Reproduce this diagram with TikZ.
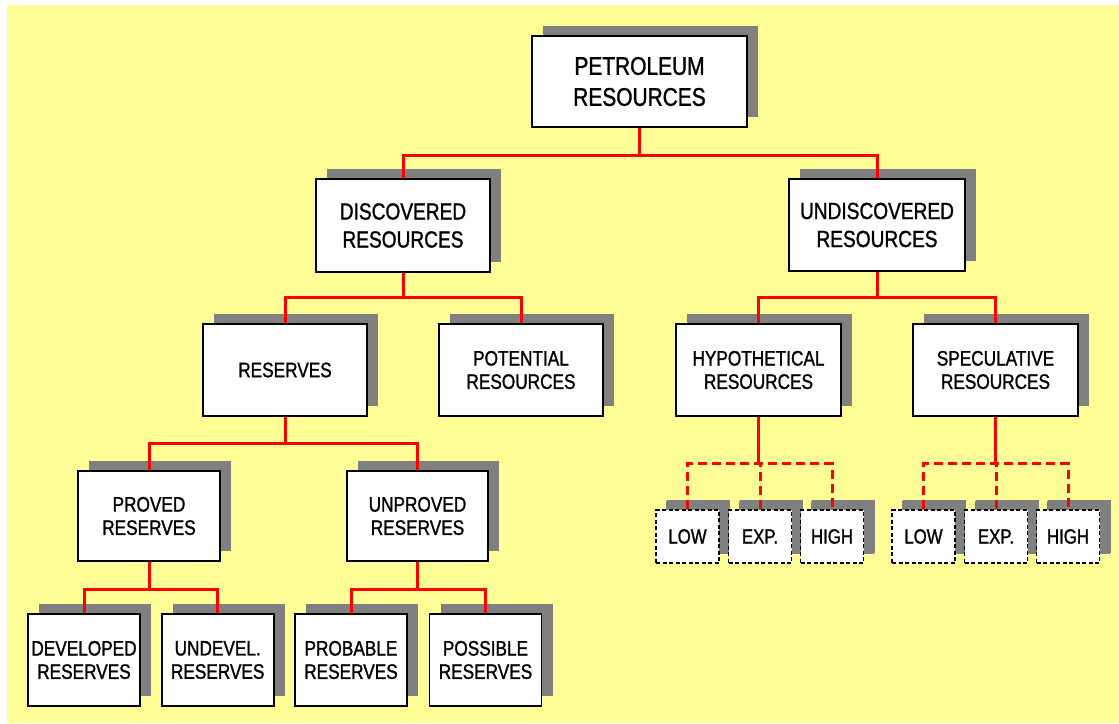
\documentclass[tikz,border=0pt]{standalone}
\usepackage{fontspec}
\newfontfamily\cf[FakeStretch=0.82,FakeBold=1.2]{Liberation Sans}
\usetikzlibrary{shadows}
\definecolor{bgyellow}{RGB}{255,254,150}
\definecolor{shgray}{RGB}{128,128,128}
\definecolor{linered}{RGB}{255,0,0}
\begin{document}
\begin{tikzpicture}[x=1pt,y=-1pt,
  box/.style={draw=black, line width=1.8pt, fill=white, inner sep=0pt, align=center,
    font=\cf\fontsize{21}{23.3}\selectfont,
    drop shadow={shadow xshift=11pt, shadow yshift=10pt, fill=shgray, opacity=1}},
  bigbox/.style={box, font=\cf\fontsize{25.5}{31}\selectfont},
  midbox/.style={box, font=\cf\fontsize{23.3}{28}\selectfont},
  lowbox/.style={box, line width=1.5pt, dash pattern=on 4pt off 2.5pt,
    minimum width=63pt, minimum height=53pt, font=\cf\fontsize{20.5}{23}\selectfont,
    drop shadow={shadow xshift=10pt, shadow yshift=9pt, fill=shgray, opacity=1}},
  conn/.style={draw=linered, line width=3pt},
  dconn/.style={draw=linered, line width=3pt, dash pattern=on 9pt off 5pt}]
\useasboundingbox (0,0) rectangle (1119,723);
\fill[bgyellow] (7,5) rectangle (1119,723);

% level 1
\node[bigbox, minimum width=215pt, minimum height=91pt] (pet) at (639.5,81.5) {PETROLEUM\\RESOURCES};
% level 2
\node[midbox, minimum width=174pt, minimum height=93pt] (disc) at (403,225.5) {DISCOVERED\\RESOURCES};
\node[midbox, minimum width=176pt, minimum height=92pt] (undisc) at (877,225) {UNDISCOVERED\\RESOURCES};
% level 3
\node[box, minimum width=164pt, minimum height=92pt] (res) at (285,370) {RESERVES};
\node[box, minimum width=164pt, minimum height=92pt] (pot) at (521,370) {POTENTIAL\\RESOURCES};
\node[box, minimum width=165pt, minimum height=92pt] (hypo) at (758.5,370) {HYPOTHETICAL\\RESOURCES};
\node[box, minimum width=165pt, minimum height=92pt] (spec) at (995.5,370) {SPECULATIVE\\RESOURCES};
% level 4
\node[box, minimum width=142pt, minimum height=90pt] (prov) at (149,516) {PROVED\\RESERVES};
\node[box, minimum width=141pt, minimum height=90pt] (unprov) at (417.5,516) {UNPROVED\\RESERVES};
% level 5
\node[box, minimum width=112pt, minimum height=92pt] (dev) at (84,660) {DEVELOPED\\RESERVES};
\node[box, minimum width=112pt, minimum height=92pt] (undev) at (217.7,660) {UNDEVEL.\\RESERVES};
\node[box, minimum width=112pt, minimum height=92pt] (prob) at (351,660) {PROBABLE\\RESERVES};
\node[box, minimum width=112pt, minimum height=92pt] (poss) at (485.5,660) {POSSIBLE\\RESERVES};
% low / exp / high
\node[lowbox] (lowA) at (687.5,536.5) {LOW};
\node[lowbox] (expA) at (760,536.5) {EXP.};
\node[lowbox] (highA) at (832,536.5) {HIGH};
\node[lowbox] (lowB) at (923.5,536.5) {LOW};
\node[lowbox] (expB) at (996,536.5) {EXP.};
\node[lowbox] (highB) at (1068,536.5) {HIGH};

% connectors
\path (pet.south) ++(0,28) coordinate (j1);
\draw[conn] (pet.south) -- (j1);
\draw[conn] (disc.north) |- (j1) -| (undisc.north);

\path (disc.south) ++(0,25) coordinate (j2);
\draw[conn] (disc.south) -- (j2);
\draw[conn] (res.north) |- (j2) -| (pot.north);

\path (undisc.south) ++(0,26) coordinate (j3);
\draw[conn] (undisc.south) -- (j3);
\draw[conn] (hypo.north) |- (j3) -| (spec.north);

\path (res.south) ++(0,27) coordinate (j4);
\draw[conn] (res.south) -- (j4);
\draw[conn] (prov.north) |- (j4) -| (unprov.north);

\path (prov.south) ++(0,28) coordinate (j5);
\draw[conn] (prov.south) -- (j5);
\draw[conn] (dev.north) |- (j5) -| (undev.north);

\path (unprov.south) ++(0,28) coordinate (j6);
\draw[conn] (unprov.south) -- (j6);
\draw[conn] (prob.north) |- (j6) -| (poss.north);

\path (hypo.south) ++(0,47) coordinate (j7);
\draw[conn] (hypo.south) -- (j7);
\draw[dconn] (lowA.north) |- (j7) -| (highA.north);
\draw[dconn] (expA.north) -- (expA.north |- j7);

\path (spec.south) ++(0,47) coordinate (j8);
\draw[conn] (spec.south) -- (j8);
\draw[dconn] (lowB.north) |- (j8) -| (highB.north);
\draw[dconn] (expB.north) -- (expB.north |- j8);
\end{tikzpicture}
\end{document}
